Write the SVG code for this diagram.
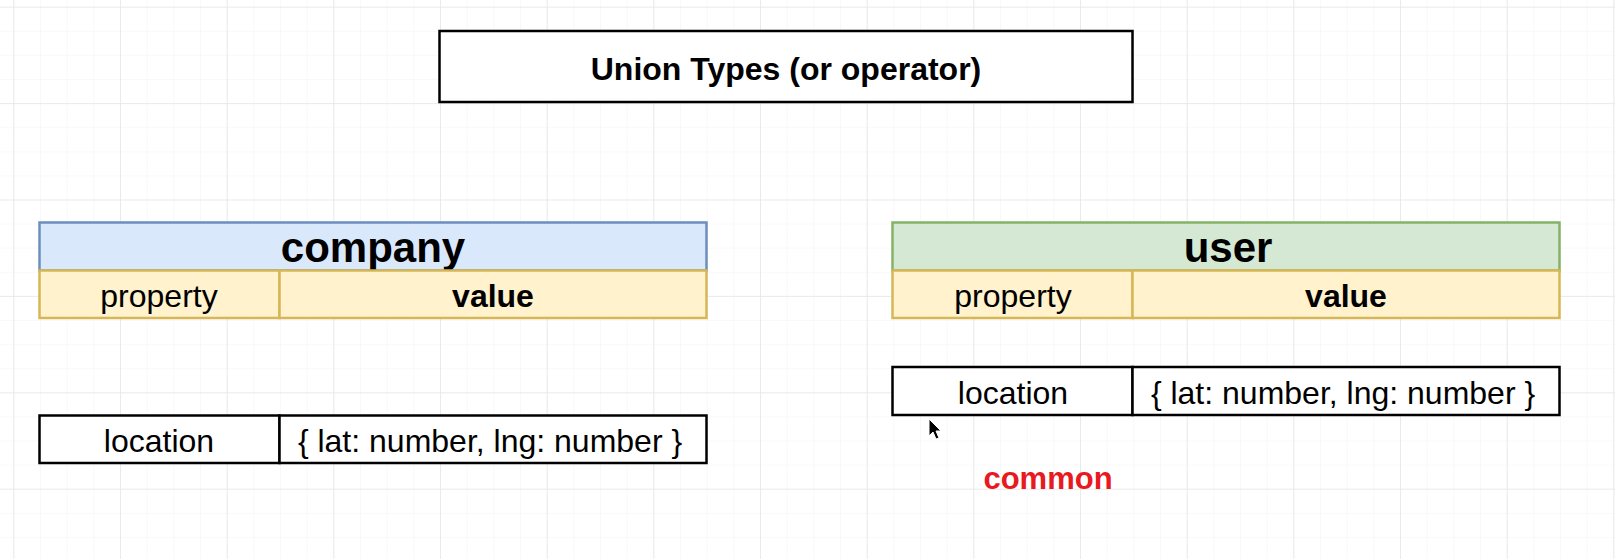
<svg xmlns="http://www.w3.org/2000/svg" width="1615" height="559" viewBox="0 0 1615 559">
  <defs>
    <pattern id="gridMinor" patternUnits="userSpaceOnUse" x="13.33" y="6.7" width="26.667" height="24.1">
      <path d="M0 0 V24.1 M0 0 H26.667" fill="none" stroke="#f3f3f3" stroke-width="1.2"/>
    </pattern>
    <pattern id="gridMajor" patternUnits="userSpaceOnUse" x="13.33" y="6.7" width="106.667" height="96.4">
      <path d="M0 0 V96.4 M0 0 H106.667" fill="none" stroke="#e6e6e6" stroke-width="1.5"/>
    </pattern>
    <style>
      .t { font-family: "Liberation Sans", Arial, Helvetica, sans-serif; fill: #000; text-anchor: middle; }
      .reg { font-size: 32px; }
      .bold { font-weight: bold; }
      .hdr { font-size: 42px; font-weight: bold; }
      .yel { fill: #fff2cc; stroke: #d6b656; stroke-width: 2.5; }
      .row { fill: #ffffff; stroke: #000; stroke-width: 2.5; }
    </style>
  </defs>

  <rect x="0" y="0" width="1615" height="559" fill="#ffffff"/>
  <rect x="0" y="0" width="1615" height="559" fill="url(#gridMinor)"/>
  <rect x="0" y="0" width="1615" height="559" fill="url(#gridMajor)"/>

  <g id="title">
    <rect x="439.5" y="31" width="693" height="71" fill="#ffffff" stroke="#000" stroke-width="2.5"/>
    <text class="t bold" x="786" y="79.5" font-size="32">Union Types (or operator)</text>
  </g>

  <g id="company">
    <rect x="39.5" y="222.5" width="667" height="48" fill="#dae8fc" stroke="#6c8ebf" stroke-width="2.5"/>
    <text class="t hdr" x="373" y="262">company</text>
    <rect class="yel" x="39.5" y="270.5" width="240" height="47.5"/>
    <rect class="yel" x="279.5" y="270.5" width="427" height="47.5"/>
    <text class="t reg" x="159" y="307">property</text>
    <text class="t reg bold" x="493" y="307">value</text>
  </g>

  <g id="company-location">
    <rect class="row" x="39.5" y="415.5" width="240" height="47.5"/>
    <rect class="row" x="279.5" y="415.5" width="427" height="47.5"/>
    <text class="t reg" x="159" y="451.5">location</text>
    <text class="t reg" x="490" y="451.5">{ lat: number, lng: number }</text>
  </g>

  <g id="user">
    <rect x="892.5" y="222.5" width="667" height="48" fill="#d5e8d4" stroke="#82b366" stroke-width="2.5"/>
    <text class="t hdr" x="1228" y="262">user</text>
    <rect class="yel" x="892.5" y="270.5" width="240" height="47.5"/>
    <rect class="yel" x="1132.5" y="270.5" width="427" height="47.5"/>
    <text class="t reg" x="1013" y="307">property</text>
    <text class="t reg bold" x="1346" y="307">value</text>
  </g>

  <g id="user-location">
    <rect class="row" x="892.5" y="367" width="240" height="48"/>
    <rect class="row" x="1132.5" y="367" width="427" height="48"/>
    <text class="t reg" x="1013" y="403.5">location</text>
    <text class="t reg" x="1343" y="403.5">{ lat: number, lng: number }</text>
  </g>

  <g id="common">
    <text class="t bold" x="1048" y="488.5" font-size="31" style="fill:#e8191f">common</text>
  </g>

  <g id="connectors"></g>

  <g id="cursor">
    <path d="M929 419 L929 436 L933 432 L936 439 L939 438 L936 431 L941 431 Z" fill="#000" stroke="#fff" stroke-width="1"/>
  </g>
</svg>
